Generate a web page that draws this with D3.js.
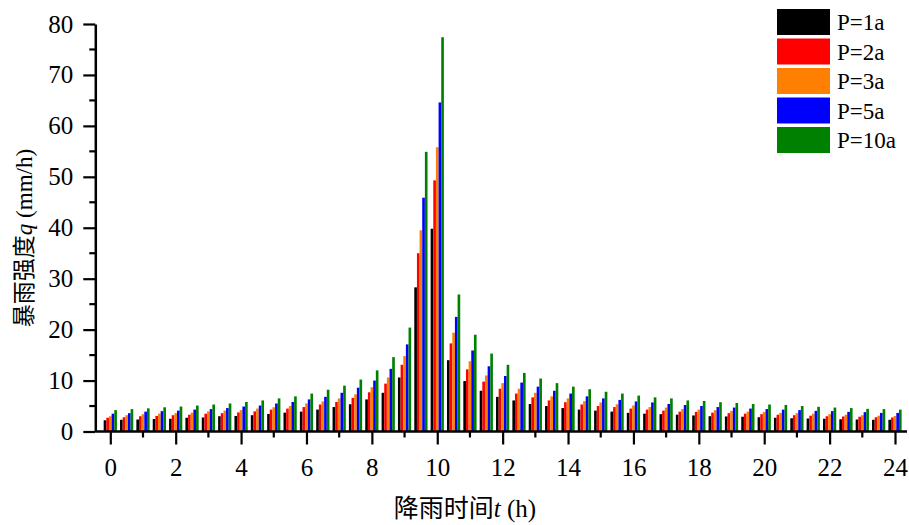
<!DOCTYPE html>
<html>
<head>
<meta charset="utf-8">
<script src="https://cdn.jsdelivr.net/npm/d3@7"></script>
<style>
  body { margin: 0; background: #fff; }
  text { font-family: "Liberation Serif", "Times New Roman", serif; }
  .cjk { font-family: "Noto Sans CJK SC", sans-serif; }
</style>
</head>
<body>
<script>
// chart size
const width = 909, height = 525;

// data: rain intensity (mm/h) per half hour for each return period
const times = [0,0.5,1,1.5,2,2.5,3,3.5,4,4.5,5,5.5,6,6.5,7,7.5,8,8.5,9,9.5,10,10.5,11,11.5,12,
  12.5,13,13.5,14,14.5,15,15.5,16,16.5,17,17.5,18,18.5,19,19.5,20,20.5,21,21.5,22,22.5,23,23.5,24];
const p1 = [2.2,2.3,2.35,2.45,2.5,2.7,2.75,3.0,3.05,3.2,3.45,3.7,3.9,4.3,4.8,5.35,6.3,7.6,10.6,28.3,39.8,14.0,9.9,8.0,6.8,
  6.1,5.4,5.0,4.6,4.3,4.1,3.9,3.65,3.5,3.4,3.3,3.15,3.0,2.95,2.9,2.8,2.7,2.6,2.55,2.5,2.4,2.35,2.3,2.3];
const p2 = [2.7,2.8,3.0,3.05,3.2,3.3,3.5,3.6,3.75,3.95,4.3,4.5,4.8,5.3,5.8,6.6,7.7,9.4,13.1,35.0,49.3,17.3,12.2,9.8,8.4,
  7.45,6.7,6.1,5.75,5.3,5.0,4.8,4.5,4.3,4.1,3.9,3.85,3.7,3.6,3.5,3.4,3.3,3.2,3.1,3.0,2.95,2.9,2.8,2.75];
const p3 = [3.0,3.2,3.4,3.5,3.6,3.7,3.95,4.1,4.2,4.5,4.75,5.0,5.5,5.9,6.5,7.3,8.7,10.6,14.8,39.5,55.8,19.4,13.8,11.0,9.5,
  8.4,7.6,6.9,6.5,5.95,5.7,5.35,5.1,4.8,4.7,4.4,4.3,4.2,4.05,3.9,3.85,3.65,3.6,3.5,3.4,3.3,3.2,3.1,3.05];
const p5 = [3.5,3.6,3.9,4.0,4.1,4.3,4.4,4.6,4.9,5.1,5.5,5.8,6.3,6.8,7.6,8.6,10.0,12.3,17.1,45.9,64.6,22.5,15.9,12.8,10.9,
  9.6,8.8,8.0,7.45,6.9,6.5,6.2,5.9,5.7,5.4,5.2,5.0,4.8,4.7,4.5,4.4,4.3,4.2,4.05,4.0,3.85,3.8,3.65,3.65];
const p10 = [4.2,4.4,4.55,4.75,4.9,5.1,5.3,5.5,5.8,6.1,6.5,6.9,7.45,8.2,9.0,10.2,12.0,14.6,20.4,54.9,77.4,26.9,19.0,15.3,13.1,
  11.5,10.4,9.5,8.8,8.3,7.8,7.45,7.05,6.7,6.5,6.1,6.0,5.75,5.6,5.4,5.3,5.2,5.0,4.85,4.7,4.6,4.45,4.4,4.3];

const seriesNames = ["P=1a", "P=2a", "P=3a", "P=5a", "P=10a"];
const seriesValues = [p1, p2, p3, p5, p10];
const colors = ["#000000", "#ff0000", "#ff8000", "#0000ff", "#008000"];

const xMajor = [0,2,4,6,8,10,12,14,16,18,20,22,24];
const xMinor = [1,3,5,7,9,11,13,15,17,19,21,23];
const yMajor = [0,10,20,30,40,50,60,70,80];
const yMinor = [5,15,25,35,45,55,65,75];

// scales
const xScale = d3.scaleLinear().domain([0, 24]).range([110.3, 895]);
const yScale = d3.scaleLinear().domain([0, 80]).range([431.5, 24]);

const step = xScale(0.5) - xScale(0);
const groupW = step * 0.81;
const barW = groupW / seriesNames.length;

const svg = d3.select("body").append("svg")
  .attr("width", width)
  .attr("height", height);

// bars
const plot = svg.append("g");
seriesValues.forEach((vals, s) => {
  plot.append("g")
    .attr("fill", colors[s])
    .selectAll("rect")
    .data(times.map((t, i) => ({ t: t, v: vals[i] })))
    .enter()
    .append("rect")
    .attr("x", d => xScale(d.t) - groupW / 2 + s * barW)
    .attr("width", barW)
    .attr("y", d => yScale(d.v))
    .attr("height", d => yScale(0) - yScale(d.v));
});

// x axis
const xAxis = svg.append("g")
  .attr("transform", `translate(0,${yScale(0)})`)
  .call(d3.axisBottom(xScale).tickValues(xMajor).tickSize(13).tickPadding(14).tickSizeOuter(0));
xAxis.select(".domain").remove();
xAxis.selectAll(".tick line").attr("stroke-width", 2.2);
xAxis.selectAll(".tick text").attr("font-size", 25).attr("fill", "#000")
  .attr("font-family", "'Liberation Serif', serif");
xAxis.selectAll(".minor")
  .data(xMinor).enter().append("line")
  .attr("x1", d => xScale(d)).attr("x2", d => xScale(d))
  .attr("y1", 0).attr("y2", 6)
  .attr("stroke", "#000").attr("stroke-width", 2.2);
xAxis.append("line")
  .attr("x1", xScale(0) - 15).attr("x2", xScale(24) + 12)
  .attr("y1", 0).attr("y2", 0)
  .attr("stroke", "#000").attr("stroke-width", 2.5);

// y axis
const yAxis = svg.append("g")
  .attr("transform", `translate(${xScale(0) - 15},0)`)
  .call(d3.axisLeft(yScale).tickValues(yMajor).tickSize(12).tickPadding(10).tickSizeOuter(0));
yAxis.select(".domain").attr("stroke-width", 2.5);
yAxis.selectAll(".tick line").attr("stroke-width", 2.2);
yAxis.selectAll(".tick text").attr("font-size", 25).attr("fill", "#000")
  .attr("font-family", "'Liberation Serif', serif");
yAxis.selectAll(".minor")
  .data(yMinor).enter().append("line")
  .attr("x1", 0).attr("x2", -6)
  .attr("y1", d => yScale(d)).attr("y2", d => yScale(d))
  .attr("stroke", "#000").attr("stroke-width", 2.2);

// axis titles
const xTitle = svg.append("text")
  .attr("x", 465).attr("y", 517)
  .attr("text-anchor", "middle")
  .attr("font-size", 25);
xTitle.append("tspan").attr("class", "cjk").text("降雨时间");
xTitle.append("tspan").attr("font-style", "italic").text("t");
xTitle.append("tspan").text(" (h)");

const yTitle = svg.append("text")
  .attr("transform", "translate(32,238) rotate(-90)")
  .attr("text-anchor", "middle")
  .attr("font-size", 23);
yTitle.append("tspan").attr("class", "cjk").text("暴雨强度");
yTitle.append("tspan").attr("font-style", "italic").text("q");
yTitle.append("tspan").text(" (mm/h)");

// legend
const legend = svg.append("g").attr("transform", "translate(777,9)");
seriesNames.forEach((name, i) => {
  const row = legend.append("g").attr("transform", `translate(0,${i * 29.5})`);
  row.append("rect")
    .attr("width", 53).attr("height", 26)
    .attr("fill", colors[i]);
  row.append("text")
    .attr("x", 60).attr("y", 21)
    .attr("font-size", 23)
    .text(name);
});
</script>
</body>
</html>
